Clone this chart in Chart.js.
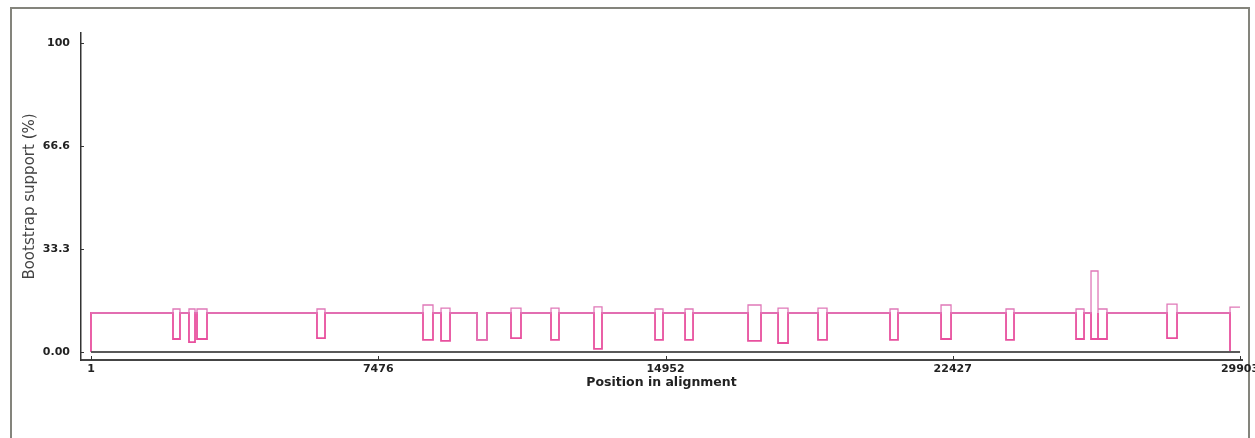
<!DOCTYPE html>
<html>
<head>
<meta charset="utf-8">
<title>Bootscan</title>
<script src="https://cdn.jsdelivr.net/npm/chart.js"></script>
<style>
    html, body { margin: 0; padding: 0; background: #fff; overflow: hidden; }
    #wrap { position: relative; width: 1255px; height: 438px; }
    #frame {
        position: absolute; left: 10px; top: 7px; width: 1236px; height: 500px;
        border: 2px solid #84847c; box-sizing: content-box;
    }
    #chart { position: absolute; left: 0; top: 0; }
</style>
</head>
<body>
<div id="wrap">
    <div id="frame"></div>
    <canvas id="chart" width="1255" height="438"></canvas>
</div>
<script>
// alignment ticks
var xTicks = [1, 7476, 14952, 22427, 29903];
var yTicks = [0, 33.3, 66.6, 100];
var yTickLabels = ['0.00', '33.3', '66.6', '100'];

// support level outside the windows
var baseline = 12.6;

// windows where support changes (start, end, low value, upper value)
var dipStart = [2135, 2551, 2760, 5882, 8641, 9110, 10046, 10931, 11972, 13091, 14679, 15460, 17099, 17880, 18920, 20794, 22122, 23813, 25635, 26025, 26207, 28003];
var dipEnd   = [2317, 2708, 3020, 6091, 8901, 9344, 10306, 11191, 12180, 13299, 14887, 15668, 17437, 18140, 19155, 21002, 22382, 24021, 25843, 26207, 26441, 28263];
var dipLow   = [4.2, 3.2, 4.2, 4.5, 3.9, 3.6, 3.9, 4.5, 3.9, 1.0, 3.9, 3.9, 3.6, 2.9, 3.9, 3.9, 4.2, 3.9, 4.2, 4.2, 4.2, 4.5];
var dipTop   = [13.9, 13.9, 13.9, 13.9, 15.2, 14.2, 3.9, 14.2, 14.2, 14.6, 13.9, 13.9, 15.2, 14.2, 14.2, 13.9, 15.2, 13.9, 13.9, 26.2, 13.9, 15.5];

// last window at the end of the alignment
var endPos = 29642;
var endTop = 14.5;

function lowSeries() {
    var pts = [{x: 1, y: 0}, {x: 1, y: baseline}];
    for (var i = 0; i < dipStart.length; i++) {
        pts.push({x: dipStart[i], y: baseline});
        pts.push({x: dipStart[i], y: dipLow[i]});
        pts.push({x: dipEnd[i], y: dipLow[i]});
        pts.push({x: dipEnd[i], y: baseline});
    }
    pts.push({x: endPos, y: baseline});
    pts.push({x: endPos, y: 0});
    return pts;
}

function highSeries() {
    var pts = [{x: 1, y: baseline}];
    for (var i = 0; i < dipStart.length; i++) {
        pts.push({x: dipStart[i], y: baseline});
        pts.push({x: dipStart[i], y: dipTop[i]});
        pts.push({x: dipEnd[i], y: dipTop[i]});
        pts.push({x: dipEnd[i], y: baseline});
    }
    pts.push({x: endPos, y: baseline});
    pts.push({x: endPos, y: endTop});
    pts.push({x: xTicks[xTicks.length - 1], y: endTop});
    return pts;
}

// small tick marks drawn inside the axes
var innerTicks = {
    id: 'innerTicks',
    afterDraw: function (chart) {
        var ctx = chart.ctx, xs = chart.scales.x, ys = chart.scales.y;
        var area = chart.chartArea;
        ctx.save();
        ctx.strokeStyle = '#333';
        ctx.lineWidth = 1;
        ctx.beginPath();
        yTicks.forEach(function (v) {
            var py = Math.round(ys.getPixelForValue(v)) + 0.5;
            ctx.moveTo(area.left, py);
            ctx.lineTo(area.left + 3, py);
        });
        xTicks.forEach(function (v) {
            var px = Math.round(xs.getPixelForValue(v)) + 0.5;
            ctx.moveTo(px, area.bottom);
            ctx.lineTo(px, area.bottom - 4);
        });
        ctx.stroke();
        ctx.restore();
    }
};

var chart = new Chart(document.getElementById('chart'), {
    type: 'line',
    data: {
        datasets: [{
            label: 'zero',
            data: [{x: 1, y: 0}, {x: xTicks[xTicks.length - 1], y: 0}],
            borderColor: '#5a5a5a',
            borderWidth: 2
        }, {
            label: 'upper',
            data: highSeries(),
            borderColor: '#e078b8',
            borderWidth: 1.3
        }, {
            label: 'lower',
            data: lowSeries(),
            borderColor: '#e8509e',
            borderWidth: 1.8
        }]
    },
    options: {
        responsive: false,
        animation: false,
        elements: {
            point: { radius: 0 },
            line: { tension: 0 }
        },
        layout: { padding: { left: 0, top: 33, right: 13, bottom: 0 } },
        plugins: {
            legend: { display: false },
            tooltip: { enabled: false }
        },
        scales: {
            x: {
                type: 'linear',
                min: -259,
                max: 29954,
                afterFit: function (s) {
                    s.height = 78;
                    // let the last label run off the edge like the original
                    s.paddingLeft = 0;
                    s.paddingRight = 0;
                },
                afterBuildTicks: function (s) {
                    s.ticks = xTicks.map(function (v) { return {value: v}; });
                },
                ticks: {
                    autoSkip: false,
                    maxRotation: 0,
                    padding: 3,
                    color: '#222',
                    font: { family: 'DejaVu Sans', size: 11, weight: 'bold' },
                    callback: function (v) { return String(v); }
                },
                grid: { drawOnChartArea: false, drawTicks: false },
                border: { display: true, color: '#444', width: 2 },
                title: {
                    display: true,
                    text: 'Position in alignment',
                    color: '#222',
                    font: { family: 'DejaVu Sans', size: 12.5, weight: 'bold' },
                    padding: { top: 0, bottom: 48 }
                }
            },
            y: {
                type: 'linear',
                min: -2.6,
                max: 103.2,
                afterFit: function (s) { s.width = 81; },
                afterBuildTicks: function (s) {
                    s.ticks = yTicks.map(function (v) { return {value: v}; });
                },
                ticks: {
                    autoSkip: false,
                    padding: 11,
                    color: '#222',
                    font: { family: 'DejaVu Sans', size: 11, weight: 'bold' },
                    callback: function (v, i) { return yTickLabels[i]; }
                },
                grid: { drawOnChartArea: false, drawTicks: false },
                border: { display: true, color: '#333', width: 1.5 },
                title: {
                    display: true,
                    text: 'Bootstrap support (%)',
                    color: '#444',
                    font: { family: 'DejaVu Sans', size: 15 },
                    padding: { top: 21, bottom: 0 }
                }
            }
        }
    },
    plugins: [innerTicks]
});
</script>
</body>
</html>
